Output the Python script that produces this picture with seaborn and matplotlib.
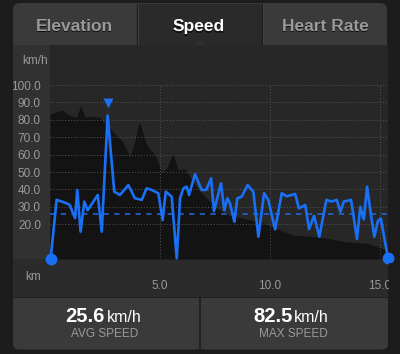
import numpy as np
import pandas as pd
import matplotlib
matplotlib.use("Agg")
import matplotlib.pyplot as plt
from matplotlib.patches import Rectangle, FancyBboxPatch, Polygon
from matplotlib.ticker import FixedLocator
import seaborn as sns

# ---------------- data ----------------
speed_km = [0.03, 0.30, 0.76, 0.90, 1.14, 1.24, 1.39, 1.56, 1.71, 2.17, 2.35, 2.62,
            2.92, 3.18, 3.56, 3.86, 4.17, 4.39, 4.62, 4.92, 5.12, 5.26, 5.53, 5.76,
            5.91, 6.06, 6.21, 6.32, 6.59, 6.89, 7.10, 7.32, 7.45, 7.77, 7.92, 8.06,
            8.18, 8.38, 8.51, 8.71, 8.98, 9.24, 9.47, 9.73, 9.92, 10.23, 10.53, 10.76,
            11.14, 11.31, 11.60, 11.77, 12.00, 12.24, 12.56, 12.78, 13.03, 13.20, 13.35,
            13.68, 13.95, 14.10, 14.26, 14.41, 14.59, 14.74, 14.90, 15.03, 15.36]
speed_kmh = [0, 34, 32, 31, 23.5, 39.7, 15.7, 33, 28, 36.8, 15.7, 82.5,
             38.7, 36.8, 42.5, 34.9, 34, 40.6, 39.7, 37.8, 22.4, 38.7, 35.8, 0.4,
             34.9, 40.6, 41.6, 36.8, 48.7, 39.7, 39.7, 46.4, 27.5, 43.5, 28, 34.9,
             32, 21.4, 34.9, 35.8, 42.5, 38.7, 12.8, 37.8, 34, 17, 37.8, 36,
             37.4, 29.1, 31, 17.2, 24.8, 12.8, 34, 33, 34, 27.2, 33,
             34, 11.5, 30, 22.8, 41.6, 25, 12.8, 21.8, 23.4, 0.5]

# elevation silhouette drawn behind the speed line (in speed-axis units)
elev_km = [0.0, 0.05, 0.53, 0.91, 1.21, 1.40, 1.59, 1.97, 2.27, 2.50, 2.73, 2.95,
           3.27, 3.64, 3.82, 4.06, 4.40, 4.55, 4.77, 5.08, 5.30, 5.58, 5.82, 6.14,
           6.36, 6.67, 7.12, 7.58, 8.18, 8.77, 9.68, 10.45, 11.05, 11.82, 12.59,
           13.32, 14.41, 15.14, 15.36]
elev_val = [83.5, 83.5, 85.6, 82.5, 81.5, 88.5, 81.5, 82, 81.5, 78, 75, 72,
            68, 59, 66, 79, 65.5, 63, 60, 50, 52, 61, 51, 52,
            47, 41, 35, 29, 25, 23.5, 20.7, 16.7, 13.8, 13, 12,
            10, 9, 6, 5]

avg_speed = 25.6
max_speed = 82.5
y_ticks = [20, 30, 40, 50, 60, 70, 80, 90, 100]
x_major = [5, 10, 15]
x_minor = [1, 2, 3, 4, 6, 7, 8, 9, 11, 12, 13, 14]
tabs = ["Elevation", "Speed", "Heart Rate"]

# ---------------- style ----------------
sns.set_style("dark")
plt.rcParams["font.family"] = ["Liberation Sans", "DejaVu Sans"]

W, H = 400, 354
fig = plt.figure(figsize=(W / 100, H / 100), dpi=100)
fig.patch.set_facecolor("#1c1c1c")

# background axes in pixel coordinates
bg = fig.add_axes([0, 0, 1, 1], zorder=0)
bg.set_xlim(0, W)
bg.set_ylim(H, 0)
bg.axis("off")
bg.set_facecolor("none")

def rect(x0, y0, x1, y1, color, z=1, round_=0):
    if round_:
        p = FancyBboxPatch((x0, y0), x1 - x0, y1 - y0,
                           boxstyle=f"round,pad=0,rounding_size={round_}",
                           fc=color, ec="none", zorder=z)
    else:
        p = Rectangle((x0, y0), x1 - x0, y1 - y0, fc=color, ec="none", zorder=z)
    bg.add_patch(p)

# tab bar
rect(13, 3, 387, 52, "#3a3a3a", z=1, round_=7)
rect(137, 4, 262, 45, "#2a2a2a", z=2)
bg.plot([137, 137], [4, 45], color="#1e1e1e", lw=1, zorder=3)
bg.plot([262, 262], [4, 45], color="#1e1e1e", lw=1, zorder=3)
bg.plot([138, 138], [4, 45], color="#444444", lw=0.6, zorder=3)
bg.plot([263, 263], [4, 45], color="#444444", lw=0.6, zorder=3)
tab_x = [74, 199, 325]
for i, (t, tx) in enumerate(zip(tabs, tab_x)):
    sel = (t == "Speed")
    bg.text(tx, 32.5, t, ha="center", va="baseline", fontsize=12.5,
            fontweight="bold", color="#111111", zorder=4)
    bg.text(tx, 31, t, ha="center", va="baseline", fontsize=12.5,
            fontweight="bold", color="#ffffff" if sel else "#9a9a9a", zorder=5)

# chart panel pieces
rect(13, 45, 50, 259, "#313131", z=2)
rect(13, 259, 388, 296.5, "#2b2b2b", z=2)
bg.add_patch(Polygon([[194, 45.5], [200, 40], [206, 45.5]], closed=True,
                     fc="#313131", ec="none", zorder=6))
bg.text(48, 64.5, "km/h", ha="right", va="baseline", fontsize=8.5, color="#9a9a9a", zorder=5)
bg.text(25, 279.5, "km", ha="left", va="baseline", fontsize=8.5, color="#9a9a9a", zorder=5)

# bottom stats panel
rect(13, 290, 388, 349.5, "#3a3a3a", z=1, round_=6)
rect(13, 296.5, 388, 297.5, "#1f1f1f", z=2)
bg.plot([199.5, 199.5], [297, 349.5], color="#1e1e1e", lw=1.2, zorder=3)

def stat(xsplit, value, label, xlabel):
    bg.text(xsplit, 322.3, value, ha="right", va="baseline", fontsize=14.5,
            fontweight="bold", color="#ffffff", zorder=5)
    bg.text(xsplit + 1.5, 322.3, "km/h", ha="left", va="baseline", fontsize=11.5,
            color="#ffffff", zorder=5)
    bg.text(xlabel, 337.3, label, ha="center", va="baseline", fontsize=8.5,
            color="#9a9a9a", zorder=5)

stat(105, f"{avg_speed:.1f}", "AVG SPEED", 104.5)
stat(292.5, f"{max_speed:.1f}", "MAX SPEED", 293)

# ---------------- main chart ----------------
def fx(x):
    return x / W

def fy(y):
    return 1 - y / H

ax = fig.add_axes([fx(50), fy(259), fx(388) - fx(50), fy(45) - fy(259)], zorder=2)
ax.set_facecolor("#272727")
ax.set_xlim(0, 15.36)
ax.set_ylim(0, 123)
for s in ax.spines.values():
    s.set_visible(False)

ax.fill_between(elev_km, elev_val, 0, color="#131313", lw=0, zorder=1)

# grid
for yv in y_ticks:
    ax.axhline(yv, color="#555555", lw=0.7, ls=(0, (1, 2)), zorder=2)
ax.vlines(x_major, 0, 100, color="#555555", lw=0.7, ls=(0, (1, 2)), zorder=2)

# average line
ax.axhline(avg_speed, color="#1f6be0", lw=1.1, ls=(0, (3.5, 3.5)), zorder=3)

df = pd.DataFrame({"km": speed_km, "speed": speed_kmh})
sns.lineplot(data=df, x="km", y="speed", color="#1a70f5", lw=1.9,
             estimator=None, sort=False, ax=ax, zorder=4)
ax.lines[-1].set_clip_on(False)

# end points
ax.plot([speed_km[0], speed_km[-1]], [speed_kmh[0], speed_kmh[-1]], "o",
        color="#1a70f5", ms=8.5, mec="none", clip_on=False, zorder=6)
# max marker
imax = int(np.argmax(speed_kmh))
ax.plot([speed_km[imax]], [speed_kmh[imax] + 7.2], "v", color="#1a70f5",
        ms=7.5, mec="none", zorder=6)

ax.set_yticks(y_ticks)
ax.set_yticklabels([f"{v:.1f}" for v in y_ticks])
ax.tick_params(axis="y", length=0, pad=6.5, labelsize=8.5, labelcolor="#9a9a9a")
ax.xaxis.set_major_locator(FixedLocator(x_major))
ax.xaxis.set_minor_locator(FixedLocator(x_minor))
ax.set_xticklabels([f"{v:.1f}" for v in x_major])
ax.tick_params(axis="x", which="major", direction="out", length=8, width=0.8,
               color="#8a8a8a", pad=7, labelsize=8.5, labelcolor="#9a9a9a")
ax.tick_params(axis="x", which="minor", direction="out", length=4, width=0.8,
               color="#8a8a8a")
ax.set_xlabel("")
ax.set_ylabel("")
ax.grid(False)

# overlay hiding text beyond panel edge
ov = fig.add_axes([0, 0, 1, 1], zorder=3)
ov.set_xlim(0, W)
ov.set_ylim(H, 0)
ov.axis("off")
ov.add_patch(Rectangle((388.5, 262.5), 12, 35, fc="#1c1c1c", ec="none"))

fig.savefig("out.png", dpi=100, facecolor=fig.get_facecolor())
